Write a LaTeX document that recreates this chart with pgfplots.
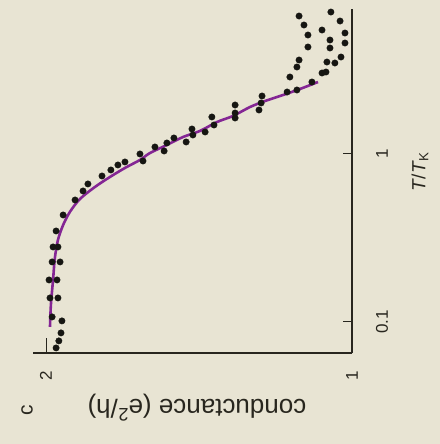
\documentclass[border=0pt]{standalone}
\usepackage{pgfplots}
\pgfplotsset{compat=1.18}
\usepackage{fontspec}
\setmainfont{Liberation Sans}
\setsansfont{Liberation Sans}
\definecolor{paper}{RGB}{232,228,211}
\definecolor{ink}{RGB}{40,38,30}
\definecolor{dot}{RGB}{22,22,18}
\definecolor{fitline}{RGB}{132,38,148}

% measured conductance (e^2/h) versus reduced temperature T/T_K
\pgfplotstableread{
g      T
1.967  0.0700
1.958  0.0771
1.951  0.0860
1.948  0.1014
1.980  0.1071
1.987  0.1389
1.961  0.1389
1.990  0.1778
1.964  0.1778
1.980  0.2276
1.954  0.2276
1.977  0.2795
1.961  0.2795
1.967  0.3480
1.944  0.4333
1.905  0.5322
1.879  0.6022
1.863  0.6630
1.817  0.7396
1.788  0.8030
1.765  0.8602
1.742  0.8963
1.693  1.0000
1.683  0.9085
1.644  1.1007
1.614  1.0420
1.605  1.1627
1.582  1.2453
1.542  1.1788
1.523  1.4087
1.520  1.2976
1.480  1.3520
1.458  1.6607
1.451  1.4880
1.382  1.9573
1.382  1.7539
1.382  1.6378
1.304  1.8276
1.294  2.2140
1.297  2.0118
1.212  2.3389
1.180  2.4044
1.131  2.6827
1.203  2.8727
1.180  3.2955
1.173  3.6263
1.144  4.3352
1.144  5.1088
1.157  5.8613
1.173  6.6283
1.098  3.0349
1.085  3.0768
1.082  3.5280
1.056  3.4813
1.036  3.7786
1.072  4.2756
1.072  4.7705
1.098  5.4713
1.023  4.5774
1.023  5.2509
1.039  6.1890
1.069  7.0016
}\measured

% Kondo scaling curve
\pgfplotstableread{
g      T
1.987  0.0934
1.984  0.1263
1.977  0.1778
1.971  0.2404
1.961  0.3076
1.944  0.3778
1.922  0.4516
1.889  0.5397
1.840  0.6362
1.791  0.7295
1.742  0.8254
1.693  0.9211
1.660  1.0138
1.605  1.1312
1.552  1.2625
1.497  1.3708
1.441  1.5504
1.389  1.6837
1.333  1.9049
1.284  2.0679
1.225  2.2452
1.170  2.4375
1.111  2.6827
}\kondo

\begin{document}
\begin{tikzpicture}[x=1bp,y=1bp]
\fill[paper] (0,0) rectangle (440,444);
\useasboundingbox (0,0) rectangle (440,444);
\begin{axis}[
  at={(33bp,91bp)}, anchor=south west,
  scale only axis, width=319bp, height=344bp,
  xmin=1, xmax=2.0425, x dir=reverse,
  ymode=log, ymin=0.0653, ymax=7.3,
  axis x line*=bottom, axis y line*=right,
  axis line style={ink, line width=1.2bp, -},
  tick align=inside,
  xtick={1,2}, xticklabels={1,2},
  ytick={0.1,1}, yticklabels={0.1,1},
  yminorticks=false,
  xtick style={ink, line width=1bp, /pgfplots/major tick length=15bp},
  ytick style={ink, line width=1bp, /pgfplots/major tick length=9bp},
  tick label style={font=\fontsize{17bp}{20bp}\selectfont, text=ink, rotate=90, anchor=center},
  /pgf/number format/assume math mode=true,
  xticklabel shift=23bp,
  yticklabel shift=30bp,
  xlabel={conductance (e\textsuperscript{2}/h)},
  ylabel={\textit{T}/\textit{T}\textsubscript{K}},
  every axis x label/.style={at={(axis description cs:0.514,-0.160)}, anchor=center, rotate=180,
    font=\fontsize{26bp}{30bp}\selectfont, text=ink},
  every axis y label/.style={at={(axis description cs:1.213,0.527)}, anchor=center, rotate=90,
    font=\fontsize{19bp}{23bp}\selectfont, text=ink},
  clip=false,
]
\addplot[fitline, line width=2.6bp, smooth] table[x=g, y=T] {\kondo};
\addplot[only marks, mark=*, mark size=3.2bp, mark options={dot, fill=dot}] table[x=g, y=T] {\measured};
\end{axis}
\node[rotate=90, text=ink, font=\fontsize{21bp}{25bp}\selectfont] at (27,34) {c};
\end{tikzpicture}
\end{document}
